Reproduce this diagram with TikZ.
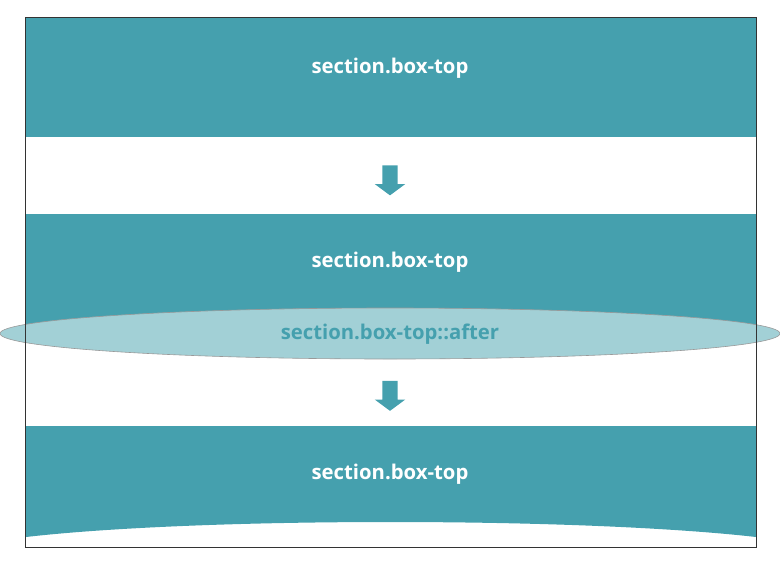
\documentclass[tikz,border=0pt]{standalone}
\usepackage{fontspec}
\setmainfont{Open Sans}
\usetikzlibrary{shapes.geometric,shapes.arrows}
\definecolor{teal}{RGB}{69,160,174}
\definecolor{lightteal}{RGB}{162,208,214}
\definecolor{framec}{RGB}{51,51,51}
\tikzset{
  band/.style={fill=teal, draw=none, minimum width=730pt, minimum height=119pt, inner sep=0pt, anchor=north west},
  labelfont/.style={font=\bfseries\fontsize{20.3}{24}\selectfont, inner sep=0pt, anchor=base},
  bandtext/.style={labelfont, text=white},
  downarrow/.style={single arrow, shape border rotate=270, fill=teal, draw=none,
    minimum height=30pt, inner sep=7.5pt, single arrow head extend=7.5pt,
    single arrow tip angle=107},
}
\begin{document}
\begin{tikzpicture}[x=1pt,y=-1pt]
\useasboundingbox (0,0) rectangle (780,568);
% bands
\node[band] (b1) at (26,18) {};
\node[band] (b2) at (26,214) {};
\coordinate (b3nw) at (26,426);
\coordinate (b3ne) at (756,426);
\coordinate (b3se) at (756,537);
\coordinate (b3sw) at (26,537);
\fill[teal] (b3nw) -- (b3ne) -- (b3se) .. controls (580,517) and (200,517) .. (b3sw) -- cycle;
\node[bandtext] (t1) at (390,73) {section.box-top};
\node[bandtext] (t2) at (390,267) {section.box-top};
\node[bandtext] (t3) at (390,479) {section.box-top};
% pseudo element ellipse
\node[ellipse, fill=lightteal, draw=gray!80, line width=0.6pt, minimum width=780pt, minimum height=51pt, inner sep=0pt] (el) at (390,333.5) {};
\node[labelfont, text=teal] (t4) at (390,339) {section.box-top::after};
% arrows
\node[downarrow] (a1) at (390,177.5) {};
\node[downarrow] (a2) at (390,393) {};
% frame
\draw[framec, line width=1pt] (25.5,17.5) rectangle (756.5,547.5);
\end{tikzpicture}
\end{document}
